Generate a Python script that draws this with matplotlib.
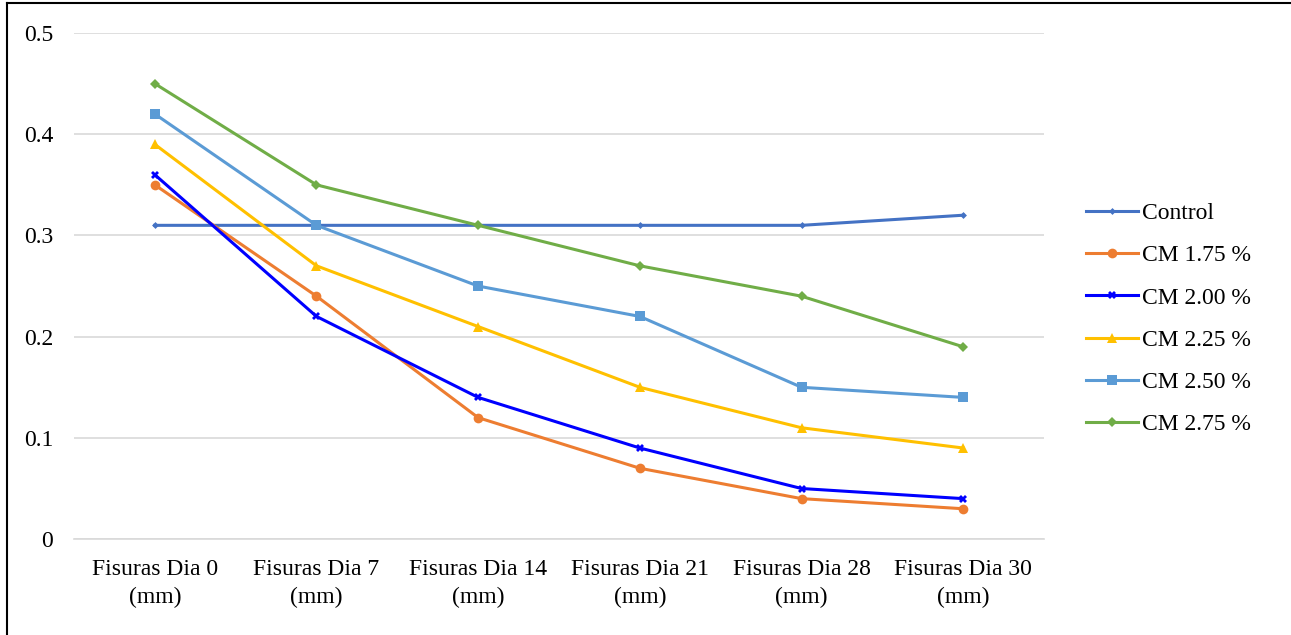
import numpy as np
import matplotlib.pyplot as plt
from matplotlib.lines import Line2D

plt.rcParams['font.family'] = ['Liberation Serif', 'DejaVu Serif']

categorias = ["Fisuras Dia 0\n(mm)", "Fisuras Dia 7\n(mm)", "Fisuras Dia 14\n(mm)",
              "Fisuras Dia 21\n(mm)", "Fisuras Dia 28\n(mm)", "Fisuras Dia 30\n(mm)"]

control = [0.31, 0.31, 0.31, 0.31, 0.31, 0.32]
cm_175 = [0.35, 0.24, 0.12, 0.07, 0.04, 0.03]
cm_200 = [0.36, 0.22, 0.14, 0.09, 0.05, 0.04]
cm_225 = [0.39, 0.27, 0.21, 0.15, 0.11, 0.09]
cm_250 = [0.42, 0.31, 0.25, 0.22, 0.15, 0.14]
cm_275 = [0.45, 0.35, 0.31, 0.27, 0.24, 0.19]

series = [
    ("Control", control, "#4472C4", "D", 3.5),
    ("CM 1.75 %", cm_175, "#ED7D31", "o", 7),
    ("CM 2.00 %", cm_200, "#0000FF", "X", 6),
    ("CM 2.25 %", cm_225, "#FFC000", "^", 7),
    ("CM 2.50 %", cm_250, "#5B9BD5", "s", 7),
    ("CM 2.75 %", cm_275, "#70AD47", "D", 5),
]

fig = plt.figure(figsize=(12.91, 6.35), dpi=100)
ax = fig.add_axes([0.0573, 0.151, 0.7514, 0.797])

x = np.arange(len(categorias))
for nombre, vals, color, mk, ms in series:
    ax.plot(x, vals, color=color, marker=mk, markersize=ms, linewidth=2.2,
            label=nombre, markeredgewidth=0)

ax.set_xlim(-0.5, len(categorias) - 0.5)
ax.set_ylim(0, 0.5)
ax.set_yticks([0, 0.1, 0.2, 0.3, 0.4, 0.5])
ax.set_yticklabels(["0", "0.1", "0.2", "0.3", "0.4", "0.5"])
ax.set_xticks(x)
ax.set_xticklabels(categorias, linespacing=1.45)
ax.tick_params(length=0, labelsize=17, pad=14)
ax.tick_params(axis="y", pad=15)
ax.grid(axis="y", color="#D9D9D9", linewidth=1.2)
ax.set_axisbelow(True)
for s in ax.spines.values():
    s.set_visible(False)
ax.spines["bottom"].set_visible(True)
ax.spines["bottom"].set_color("#D9D9D9")
ax.spines["bottom"].set_linewidth(1.2)

ax.legend(loc="center left", bbox_to_anchor=(1.043, 0.435), frameon=False,
          fontsize=17, handlelength=2.2, labelspacing=0.88, handletextpad=0.2,
          borderaxespad=0, borderpad=0)

fig.add_artist(Line2D([0.0055, 0.0055], [0, 0.996], color="black", linewidth=1.5,
                      transform=fig.transFigure))
fig.add_artist(Line2D([0.0055, 1], [0.996, 0.996], color="black", linewidth=1.5,
                      transform=fig.transFigure))

plt.savefig("out.png", dpi=100)
